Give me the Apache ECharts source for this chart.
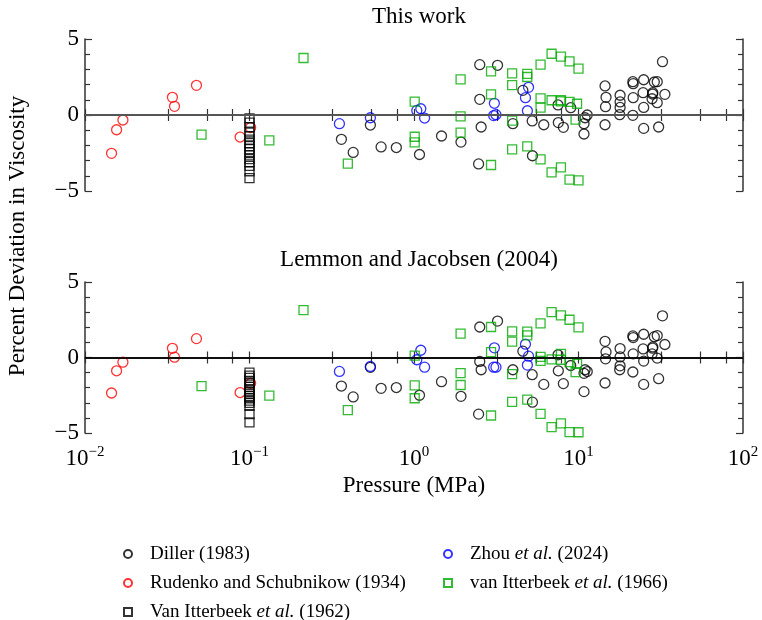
<!DOCTYPE html>
<html>
<head>
<meta charset="utf-8">
<script src="https://cdn.jsdelivr.net/npm/echarts@6/dist/echarts.min.js"></script>
<style>
    html, body { margin: 0; padding: 0; background: #fff; }
    #chart { width: 762px; height: 620px; }
</style>
</head>
<body>
<div id="chart"></div>
<script>
// Diller (1983)
const dillerP = [0.362, 0.427, 0.543, 0.631, 0.781, 1.08, 1.47, 1.93, 2.51, 3.22, 2.51, 2.56, 2.47, 3.99, 4.59, 5.23, 5.25, 6.15, 7.51, 7.54, 8.09, 8.97, 10.96, 11.3, 10.8, 10.8, 14.5, 14.7, 14.6, 14.5, 17.9, 17.9, 17.9, 17.8, 21.4, 21.5, 21.5, 21.4, 24.9, 24.7, 24.9, 24.9, 28.3, 28.2, 28.0, 28.9, 30.1, 30.1, 30.7, 32.4, 33.5];
const dillerTop = [-1.6, -2.46, -0.66, -2.1, -2.14, -2.6, -1.38, -1.78, 3.31, 3.27, 1.03, -0.79, -3.22, -0.57, 1.62, -0.39, -2.68, -0.64, 0.66, -0.5, -0.81, 0.48, -0.18, 0.0, -0.57, -1.25, 1.91, 1.16, 0.55, -0.64, 1.3, 0.86, 0.5, 0.02, 2.19, 2.06, 1.14, -0.02, 2.32, 1.47, 0.5, -0.88, 1.47, 1.38, 1.07, 2.17, 2.19, 0.81, -0.79, 3.51, 1.36];
const dillerBottom = [-1.89, -2.61, -0.65, -2.04, -1.99, -2.5, -1.6, -2.57, 2.02, 2.41, -0.26, -0.81, -3.75, -0.81, 0.42, -1.14, -2.96, -1.78, 0.18, -0.88, -1.73, -0.53, -0.81, -0.93, -1.05, -2.26, 1.07, 0.37, -0.09, -1.69, 0.59, 0.04, -0.55, -0.81, 1.43, 1.32, 0.24, -0.96, 1.54, 0.57, -0.24, -1.78, 0.7, 0.62, 0.24, 1.38, 1.45, -0.04, -1.4, 2.76, 0.86];

// Rudenko and Schubnikow (1934)
const rudenkoP = [0.0145, 0.01556, 0.0170, 0.0340, 0.0350, 0.0476, 0.0877, 0.1016];
const rudenkoTop = [-2.52, -0.97, -0.33, 1.16, 0.57, 1.95, -1.45, -0.83];
const rudenkoBottom = [-2.35, -0.88, -0.31, 0.61, 0.02, 1.25, -2.32, -1.71];

// Van Itterbeek et al. (1962)
const vi62P = [0.1, 0.1, 0.1, 0.1, 0.1, 0.1, 0.1, 0.1, 0.1, 0.1, 0.1, 0.1, 0.1, 0.1, 0.1, 0.1];
const vi62Top = [-0.22, -0.5, -0.8, -1.15, -1.4, -1.62, -1.85, -2.05, -2.25, -2.45, -2.65, -2.9, -3.1, -3.35, -3.7, -4.15];
const vi62Bottom = [-1.0, -1.2, -1.35, -1.55, -1.7, -1.95, -2.1, -2.25, -2.4, -2.55, -2.7, -2.85, -3.0, -3.2, -3.75, -4.3];

// Zhou et al. (2024)
const zhouP = [0.352, 0.543, 1.04, 1.10, 1.16, 3.05, 3.08, 3.15, 4.76, 4.89, 4.97];
const zhouTop = [-0.57, -0.18, 0.3, 0.41, -0.2, -0.04, 0.77, 0.02, 1.14, 0.28, 1.82];
const zhouBottom = [-0.92, -0.59, -0.15, 0.48, -0.64, -0.64, 0.64, -0.64, 0.88, -0.5, 0.09];

// van Itterbeek et al. (1966)
const vi66P = [0.0511, 0.132, 0.213, 0.396, 1.01, 1.01, 1.01, 1.92, 1.92, 1.92, 2.94, 2.94, 2.94, 3.95, 3.95, 3.95, 3.95, 4.88, 4.88, 4.88, 5.88, 5.88, 5.88, 5.88, 6.86, 6.86, 6.86, 7.82, 7.82, 7.82, 7.82, 8.82, 8.82, 8.82, 9.6, 9.8, 10.0, 10.0];
const vi66Top = [-1.29, -1.67, 3.75, -3.2, 0.88, -1.43, -1.8, 2.35, -0.09, -1.16, 2.87, 1.36, -3.29, 2.74, 1.97, -0.37, -2.26, 2.7, 2.5, -2.06, 3.31, 1.1, 0.48, -2.92, 4.03, 0.97, -3.77, 3.84, 0.97, 0.9, -3.44, 3.53, 0.86, -4.25, -0.31, 0.74, 3.05, -4.3];
const vi66Bottom = [-1.89, -2.52, 3.14, -3.49, 0.13, -1.84, -2.7, 1.58, -1.03, -1.82, 2.02, 0.35, -3.84, 1.73, 1.05, -1.1, -2.94, 1.71, 1.47, -2.79, 2.26, 0.04, -0.22, -3.73, 3.0, -0.13, -4.61, 2.79, 0.24, -0.15, -4.36, 2.5, -0.31, -4.94, -0.97, -0.42, 2.0, -4.95];

// tick positions on the pressure axis
const xTickValues = [0.01, 0.032, 0.055, 0.079, 0.1, 0.32, 0.55, 0.79, 1, 3.2, 5.5, 7.9, 10, 32, 55, 79, 100];
const panelTitles = ['This work', 'Lemmon and Jacobsen (2004)'];

const FONT = '"Liberation Serif", "Times New Roman", serif';
const AXIS_COLOR = '#333';
const SQUARE = 'path://M0,0L10,0L10,10L0,10Z';

const sets = [
    { name: 'Diller (1983)', p: dillerP, top: dillerTop, bottom: dillerBottom, color: '#000', symbol: 'circle', size: 10 },
    { name: 'Rudenko and Schubnikow (1934)', p: rudenkoP, top: rudenkoTop, bottom: rudenkoBottom, color: '#f00', symbol: 'circle', size: 10 },
    { name: 'Van Itterbeek et al. (1962)', p: vi62P, top: vi62Top, bottom: vi62Bottom, color: '#000', symbol: SQUARE, size: 9 },
    { name: 'Zhou et al. (2024)', p: zhouP, top: zhouTop, bottom: zhouBottom, color: '#00f', symbol: 'circle', size: 10 },
    { name: 'van Itterbeek et al. (1966)', p: vi66P, top: vi66Top, bottom: vi66Bottom, color: '#0a0', symbol: SQUARE, size: 9 }
];

const myChart = echarts.init(document.getElementById('chart'));

const grids = [
    { left: 85, right: 19, top: 39, height: 152 },
    { left: 85, right: 19, top: 282, height: 151 }
];

function xAxisFor (gridIndex, position, showLabel) {
    return {
        type: 'log',
        logBase: 10,
        gridIndex: gridIndex,
        position: position,
        min: 0.01,
        max: 100,
        axisLine: { show: true, lineStyle: { color: AXIS_COLOR, width: 1.5 } },
        axisTick: { show: true, inside: true, length: 6, customValues: xTickValues, lineStyle: { color: AXIS_COLOR, width: 1.2 } },
        splitLine: { show: false },
        axisLabel: {
            show: showLabel,
            margin: 12,
            formatter: function (v) {
                const e = Math.round(Math.log10(v));
                return '{b|10}{s|' + (e < 0 ? '\u2212' + (-e) : e) + '}';
            },
            rich: {
                b: { fontFamily: FONT, fontSize: 23, color: '#000', lineHeight: 28 },
                s: { fontFamily: FONT, fontSize: 15, color: '#000', lineHeight: 28, verticalAlign: 'top', padding: [0, 0, 14, 0] }
            }
        },
        name: showLabel ? 'Pressure (MPa)' : '',
        nameLocation: 'middle',
        nameGap: 40,
        nameTextStyle: { fontFamily: FONT, fontSize: 23, color: '#000' }
    };
}

function yAxisFor (gridIndex, position, showLabel) {
    return {
        type: 'value',
        gridIndex: gridIndex,
        position: position,
        min: -5,
        max: 5,
        interval: 5,
        axisLine: { show: true, lineStyle: { color: AXIS_COLOR, width: 1.5 } },
        axisTick: { show: true, inside: true, length: 7, lineStyle: { color: AXIS_COLOR, width: 1.2 } },
        minorTick: { show: true, splitNumber: 5, length: 5, lineStyle: { color: AXIS_COLOR, width: 1.2 } },
        splitLine: { show: false },
        axisLabel: {
            show: showLabel,
            margin: 6,
            fontFamily: FONT,
            fontSize: 23,
            color: '#000',
            formatter: function (v) { return v < 0 ? '\u2212' + (-v) : String(v); }
        }
    };
}

const series = [];
sets.forEach(function (s, i) {
    [0, 1].forEach(function (panel) {
        const devs = panel === 0 ? s.top : s.bottom;
        const item = {
            name: s.name,
            type: 'scatter',
            xAxisIndex: panel * 2,
            yAxisIndex: panel * 2,
            symbol: s.symbol,
            symbolSize: s.size,
            symbolKeepAspect: true,
            itemStyle: { color: 'rgba(0,0,0,0)', borderColor: s.color, borderWidth: 1.3 },
            emphasis: { disabled: true },
            data: s.p.map(function (p, k) { return [p, devs[k]]; })
        };
        if (i === 0) {
            item.markLine = {
                silent: true,
                symbol: 'none',
                label: { show: false },
                lineStyle: { type: 'solid', color: panel === 0 ? '#555' : '#000', width: panel === 0 ? 2 : 1.5 },
                data: [{ yAxis: 0 }]
            };
        }
        series.push(item);
    });
});

// one legend per entry, laid out in two columns like the original
function legendFor (name, left, top) {
    return {
        left: left,
        top: top,
        itemWidth: 34,
        itemHeight: 8,
        symbolKeepAspect: true,
        selectedMode: false,
        data: [name],
        formatter: function (n) { return n.replace('et al.', '{i|et al.}'); },
        textStyle: {
            fontFamily: FONT,
            fontSize: 19,
            color: '#000',
            lineHeight: 20,
            rich: { i: { fontFamily: FONT, fontSize: 19, fontStyle: 'italic', color: '#000', lineHeight: 20 } }
        }
    };
}

const option = {
    backgroundColor: '#fff',
    animation: false,
    title: [
        { text: panelTitles[0], left: 414, top: 0, textAlign: 'center', textStyle: { fontFamily: FONT, fontSize: 23, fontWeight: 'normal', color: '#000' } },
        { text: panelTitles[1], left: 414, top: 243, textAlign: 'center', textStyle: { fontFamily: FONT, fontSize: 23, fontWeight: 'normal', color: '#000' } }
    ],
    grid: grids,
    xAxis: [xAxisFor(0, 'bottom', false), xAxisFor(0, 'top', false), xAxisFor(1, 'bottom', true), xAxisFor(1, 'top', false)],
    yAxis: [yAxisFor(0, 'left', true), yAxisFor(0, 'right', false), yAxisFor(1, 'left', true), yAxisFor(1, 'right', false)],
    legend: [
        legendFor('Diller (1983)', 118, 539),
        legendFor('Rudenko and Schubnikow (1934)', 118, 568),
        legendFor('Van Itterbeek et al. (1962)', 118, 597),
        legendFor('Zhou et al. (2024)', 438, 539),
        legendFor('van Itterbeek et al. (1966)', 438, 568)
    ],
    graphic: [{
        type: 'text',
        x: 18,
        y: 236,
        rotation: Math.PI / 2,
        style: {
            text: 'Percent Deviation in Viscosity',
            font: '23px ' + FONT,
            fill: '#000',
            align: 'center',
            verticalAlign: 'middle'
        }
    }],
    series: series
};

myChart.setOption(option);
</script>
</body>
</html>
